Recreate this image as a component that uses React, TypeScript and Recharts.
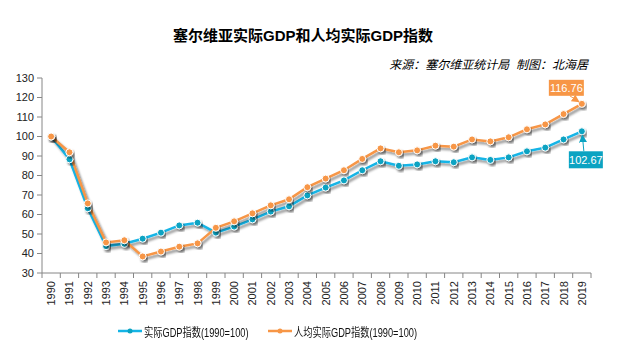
import React from 'react';
import { LineChart, Line, XAxis, YAxis, Legend } from 'recharts';

const years = [
  '1990', '1991', '1992', '1993', '1994', '1995', '1996', '1997', '1998', '1999',
  '2000', '2001', '2002', '2003', '2004', '2005', '2006', '2007', '2008', '2009',
  '2010', '2011', '2012', '2013', '2014', '2015', '2016', '2017', '2018', '2019',
];
const realGdp = [
  100, 88.3, 63.2, 43.8, 45.0, 47.6, 50.7, 54.4, 55.8, 50.7,
  53.8, 57.5, 61.5, 64.2, 69.8, 73.8, 77.5, 82.7, 87.3, 85.0,
  85.7, 87.3, 86.8, 89.3, 88.0, 89.3, 92.4, 94.3, 98.5, 102.67,
];
const perCapitaGdp = [
  100, 91.9, 65.7, 45.7, 46.8, 38.5, 41.0, 43.5, 45.2, 53.2,
  56.5, 60.6, 64.7, 67.8, 74.0, 78.4, 82.7, 88.5, 93.9, 91.9,
  92.9, 95.3, 94.8, 98.5, 97.5, 99.6, 103.7, 106.2, 111.5, 116.76,
];
const yTicks = [30, 40, 50, 60, 70, 80, 90, 100, 110, 120, 130];

const seriesNames = ['实际GDP指数(1990=100)', '人均实际GDP指数(1990=100)'];
const BLUE_LINE = '#14B4E6';
const BLUE_DOT = '#0BA3C2';
const ORANGE = '#F79646';
const FONT = '"Liberation Sans", "Noto Sans CJK SC", sans-serif';

const data = years.map((year, i) => ({
  year,
  real: realGdp[i],
  perCapita: perCapitaGdp[i],
}));

const last = years.length - 1;
const halfBand = 549 / years.length / 2;

const XTick = (props: any) => {
  const { x, y, payload, index } = props;
  return (
    <g>
      <line x1={x - halfBand} x2={x - halfBand} y1={y} y2={y + 5} stroke="#868686" />
      {index === last && (
        <line x1={x + halfBand} x2={x + halfBand} y1={y} y2={y + 5} stroke="#868686" />
      )}
      <text
        x={x}
        y={y + 8}
        transform={`rotate(-90, ${x}, ${y + 8})`}
        textAnchor="end"
        dominantBaseline="central"
        fontSize={11}
        fill="#222"
        fontFamily={FONT}
      >
        {payload.value}
      </text>
    </g>
  );
};

const OrangeCallout = (props: any) => {
  const { x, y, index, value } = props;
  if (index !== last) return null;
  return (
    <g>
      <rect x={x - 33} y={y - 24} width={35} height={16} fill={ORANGE} />
      <text x={x - 15.5} y={y - 16} textAnchor="middle" dominantBaseline="central" fill="#fff" fontSize={11} fontFamily={FONT}>
        {value}
      </text>
      <line x1={x - 12} y1={y - 8} x2={x - 3} y2={y - 2} stroke={ORANGE} strokeWidth={1} markerEnd="url(#arrowO)" />
    </g>
  );
};

const BlueCallout = (props: any) => {
  const { x, y, index, value } = props;
  if (index !== last) return null;
  return (
    <g>
      <rect x={x - 13} y={y + 20} width={34} height={17} fill={BLUE_DOT} />
      <text x={x + 4} y={y + 28.5} textAnchor="middle" dominantBaseline="central" fill="#fff" fontSize={11} fontFamily={FONT}>
        {value}
      </text>
      <line x1={x + 2} y1={y + 20} x2={x + 0.5} y2={y + 4} stroke={BLUE_DOT} strokeWidth={1} markerEnd="url(#arrowB)" />
    </g>
  );
};

const legendX = [118, 268];

const LegendContent = () => (
  <div style={{ position: 'relative', height: 16, fontFamily: FONT, fontSize: 12, color: '#111' }}>
    {[BLUE_LINE, ORANGE].map((c, i) => (
      <div key={i} style={{ position: 'absolute', left: legendX[i], top: 0, height: 16, display: 'flex', alignItems: 'center', whiteSpace: 'nowrap' }}>
        <svg width={24} height={10} style={{ marginRight: 2 }}>
          <line x1={0} x2={24} y1={5} y2={5} stroke={c} strokeWidth={2.5} />
          <circle cx={12} cy={5} r={2.5} fill={i === 0 ? BLUE_DOT : ORANGE} />
        </svg>
        <span style={{ display: 'inline-block', transform: 'scaleX(0.77)', transformOrigin: 'left center' }}>
          {seriesNames[i]}
        </span>
      </div>
    ))}
  </div>
);

export default function App() {
  return (
    <div style={{ position: 'absolute', left: 0, top: 0, width: 642, height: 351, background: '#fff' }}>
      <svg width={0} height={0} style={{ position: 'absolute' }}>
        <defs>
          <filter id="shadow" x="-20%" y="-20%" width="140%" height="160%">
            <feDropShadow dx={2} dy={2.5} stdDeviation={1.3} floodColor="#000" floodOpacity={0.45} />
          </filter>
          <marker id="arrowO" markerWidth={8} markerHeight={8} refX={7} refY={4} orient="auto" markerUnits="userSpaceOnUse">
            <path d="M0,0 L8,4 L0,8 Z" fill={ORANGE} />
          </marker>
          <marker id="arrowB" markerWidth={8} markerHeight={8} refX={7} refY={4} orient="auto" markerUnits="userSpaceOnUse">
            <path d="M0,0 L8,4 L0,8 Z" fill={BLUE_DOT} />
          </marker>
        </defs>
      </svg>
      <div style={{ position: 'absolute', left: 0, top: 24, width: 606, textAlign: 'center', fontFamily: FONT, fontWeight: 'bold', fontSize: 15, color: '#000' }}>
        塞尔维亚实际GDP和人均实际GDP指数
      </div>
      <div style={{ position: 'absolute', right: 54, top: 55, fontFamily: FONT, fontStyle: 'italic', fontSize: 12, color: '#000' }}>
        来源：塞尔维亚统计局&nbsp;&nbsp;制图：北海居
      </div>
      <LineChart width={642} height={351} data={data} margin={{ top: 78, right: 51, bottom: 38, left: 0 }}>
        <XAxis
          dataKey="year"
          interval={0}
          height={40}
          padding={{ left: halfBand, right: halfBand }}
          tickSize={0}
          tickMargin={0}
          tickLine={false}
          axisLine={{ stroke: '#868686' }}
          tick={<XTick />}
        />
        <YAxis
          domain={[30, 130]}
          ticks={yTicks}
          interval={0}
          width={42}
          tickSize={5}
          tickMargin={3}
          axisLine={{ stroke: '#868686' }}
          tickLine={{ stroke: '#868686' }}
          tick={{ fontSize: 11, fill: '#222', fontFamily: FONT }}
        />
        <Legend
          layout="horizontal"
          verticalAlign="middle"
          align="center"
          wrapperStyle={{ top: 323, left: 0, width: 642 }}
          content={<LegendContent />}
        />
        <Line
          dataKey="real"
          name={seriesNames[0]}
          stroke={BLUE_LINE}
          strokeWidth={2.5}
          filter="url(#shadow)"
          dot={{ r: 3.5, fill: BLUE_DOT, stroke: '#fff', strokeWidth: 1, filter: 'url(#shadow)' }}
          label={<BlueCallout />}
          isAnimationActive={false}
        />
        <Line
          dataKey="perCapita"
          name={seriesNames[1]}
          stroke={ORANGE}
          strokeWidth={2.5}
          filter="url(#shadow)"
          dot={{ r: 3.5, fill: ORANGE, stroke: '#fff', strokeWidth: 1, filter: 'url(#shadow)' }}
          label={<OrangeCallout />}
          isAnimationActive={false}
        />
      </LineChart>
    </div>
  );
}
